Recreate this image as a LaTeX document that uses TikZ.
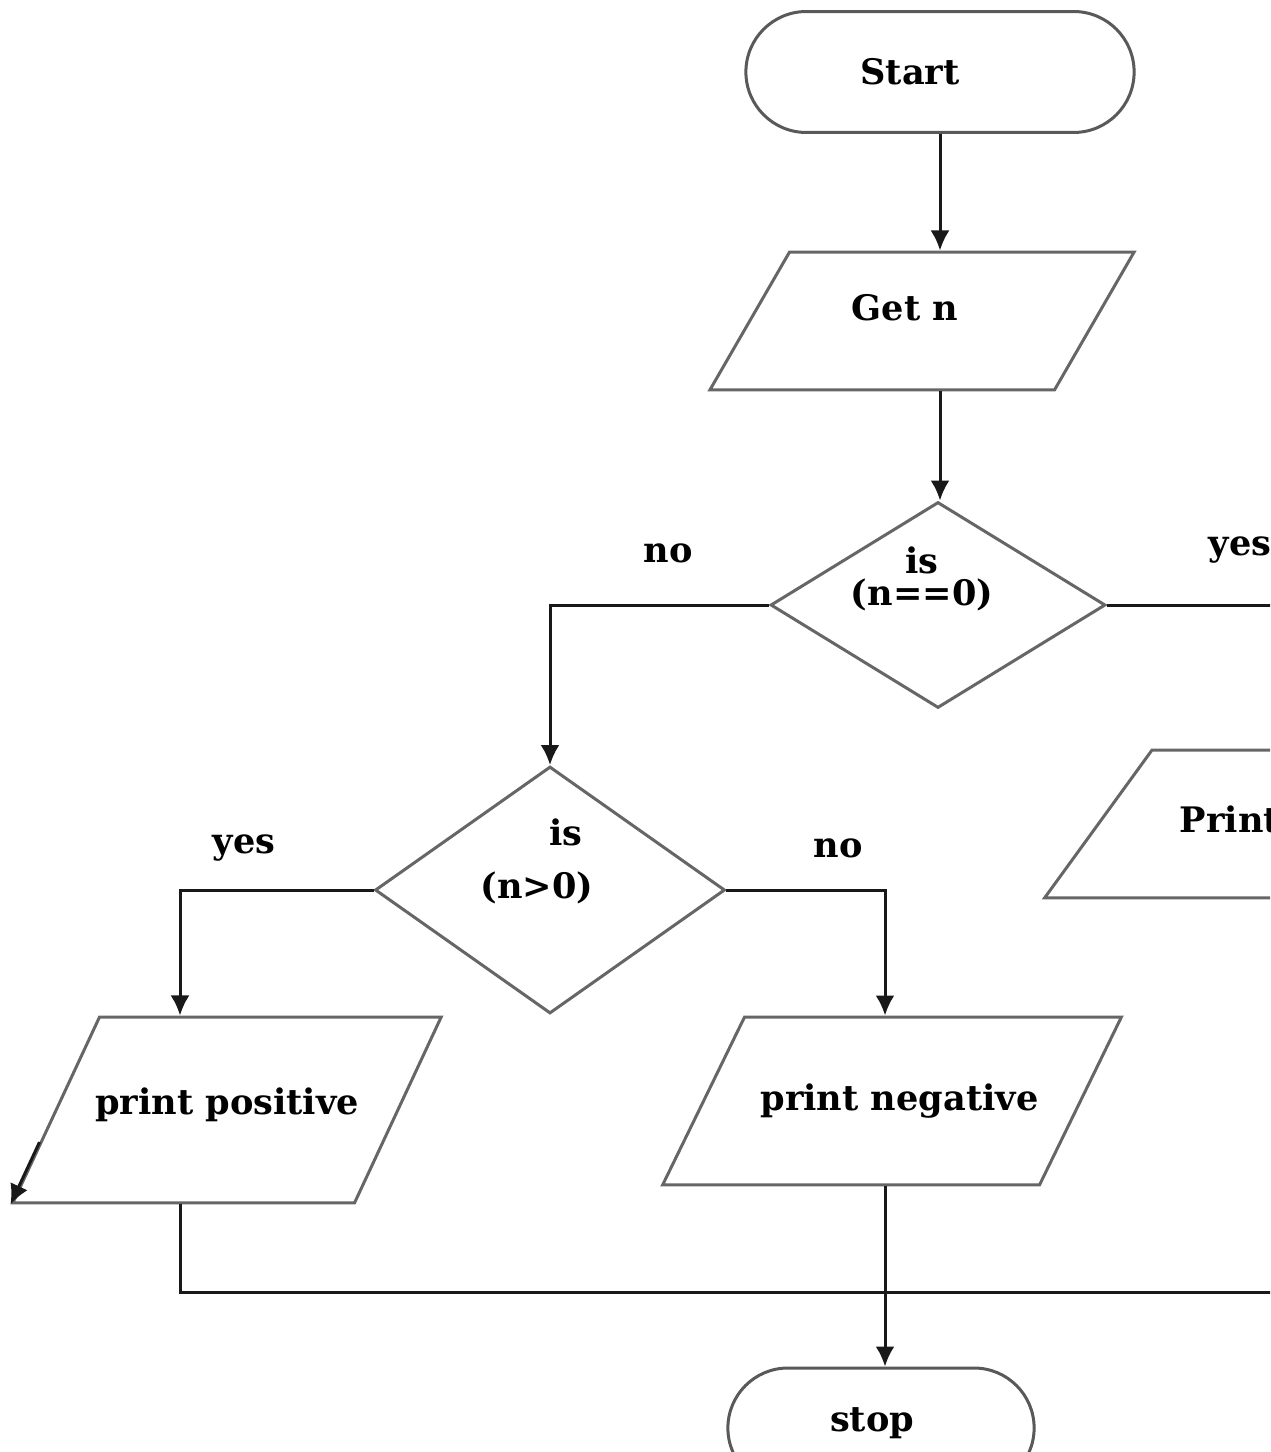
\documentclass[tikz,border=0pt]{standalone}
\usepackage{fontspec}
\setmainfont{DejaVu Serif}
\usetikzlibrary{shapes.geometric,shapes.misc,arrows.meta,calc}

\tikzset{
  every node/.style={font=\fontsize{20}{24}\selectfont\bfseries},
  terminal/.style={rounded rectangle, draw=black!65, line width=0.06cm, minimum width=#1},
  io/.style={trapezium, draw=black!60, line width=0.06cm, inner sep=0pt, text depth=0pt},
  decision/.style={diamond, draw=black!60, line width=0.06cm, inner sep=0pt},
  flow/.style={line width=0.06cm, draw=black!90},
  arrow/.style={flow, -{Latex[length=0.4cm,width=0.38cm]}}
}

\begin{document}
\begin{tikzpicture}[x=0.02cm, y=-0.02cm]
            \useasboundingbox (0,0) rectangle (1270,1452);
            \clip (0,0) rectangle (1270,1452);
            \fill [white] (0,0) rectangle (1270,1452);

            % Marking start
            \node [terminal=8cm, minimum height=2.42cm, label={[xshift=-0.6cm]center:Start}] (start) at (940,72) {};%

            % Marking input n
            \node [io, trapezium left angle=60, trapezium right angle=120, text width=5.3cm, text height=2.76cm,
                   label={[xshift=-0.34cm,yshift=0.26cm]center:Get n}] (getn) at (922,321) {};%

            % Marking test n==0
            \node [decision, minimum width=6.7cm, minimum height=4.12cm,
                   label={[xshift=-0.32cm,yshift=0.9cm]center:is},
                   label={[xshift=-0.32cm,yshift=0.2cm]center:(n==0)}] (zero) at (938,605) {};%

            % Marking test n>0
            \node [decision, minimum width=7cm, minimum height=4.94cm,
                   label={[xshift=0.32cm,yshift=1.16cm]center:is},
                   label={[xshift=-0.26cm,yshift=0.04cm]center:(n>0)}] (pos) at (550,890) {};%

            % Marking the three outputs
            \node [io, trapezium left angle=54, trapezium right angle=126, text width=5.8cm, text height=2.96cm,
                   label={[xshift=-0.38cm,yshift=0.1cm]center:Print zero}] (przero) at (1297,824) {};%
            \node [io, trapezium left angle=65, trapezium right angle=115, text width=5.1cm, text height=3.72cm,
                   label={[yshift=0.1cm]center:print positive}] (prpos) at (227,1110) {};%
            \node [io, trapezium left angle=64, trapezium right angle=116, text width=5.9cm, text height=3.36cm,
                   label={[xshift=0.15cm]center:print negative}] (prneg) at (892,1101) {};%

            % Marking stop
            \node [terminal=6.36cm, minimum height=2.4cm, label={[xshift=-0.18cm,yshift=0.1cm]center:stop}] (stop) at (881,1428) {};%

            % Drawing the flow
            \draw [arrow] (start) -- (start |- getn.north);%
            \draw [arrow] (getn.south -| 940,0) -- (zero.north -| 940,0);%
            \draw [arrow] (zero.west) -| (pos.north);%
            \draw [arrow] (zero.east) -| (przero.north);%
            \draw [arrow] (pos.west) -| (prpos.north -| 180,0);%
            \draw [arrow] (pos.east) -| (prneg.north -| 885,0);%
            \coordinate (join) at (1297,1292);
            \draw [flow] (prpos.south -| 180,0) |- (join);%
            \draw [flow] (przero.south) -- (join);%
            \draw [arrow] (prneg.south -| 885,0) -- (stop.north -| 885,0);%

            % Stray tip on print positive
            \draw [arrow] ($(prpos.bottom left corner)!0.33!(prpos.top left corner)$) -- (prpos.bottom left corner);%

            % Marking branch labels
            \node (lno1) at (668,553) {no};%
            \node (lyes1) at (1240,550) {yes};%
            \node (lyes2) at (244,848) {yes};%
            \node (lno2) at (838,848) {no};%
        \end{tikzpicture}
\end{document}
